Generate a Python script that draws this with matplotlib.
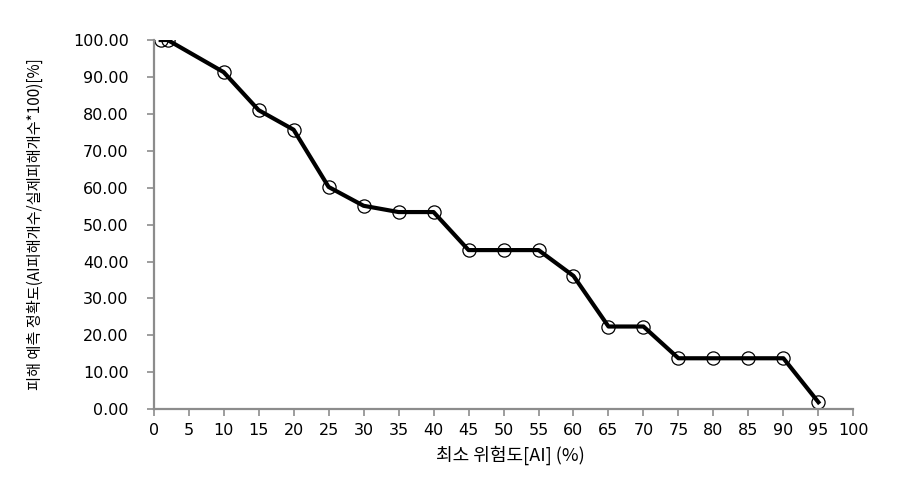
import numpy as np
import matplotlib.pyplot as plt
from matplotlib.ticker import FormatStrFormatter

plt.rcParams['font.family'] = ['Noto Sans CJK KR', 'DejaVu Sans']

# 최소 위험도 (%) and 피해 예측 정확도 (%)
min_risk = [1, 2, 10, 15, 20, 25, 30, 35, 40, 45, 50, 55, 60, 65, 70, 75, 80, 85, 90, 95]
accuracy = [100.0, 100.0, 91.3, 81.0, 75.7, 60.2, 55.1, 53.4, 53.4, 43.1, 43.1, 43.1,
            36.1, 22.4, 22.4, 13.8, 13.8, 13.8, 13.8, 1.9]

fig = plt.figure(figsize=(9.04, 4.82), dpi=100)
ax = fig.add_axes([0.170, 0.151, 0.774, 0.766])

ax.plot(min_risk, accuracy, color='black', linewidth=3,
        marker='o', markersize=9.5, markerfacecolor='none',
        markeredgecolor='black', markeredgewidth=0.9)

ax.set_xlim(0, 100)
ax.set_ylim(0, 100)
ax.set_xticks(np.arange(0, 101, 5))
ax.set_yticks(np.arange(0, 101, 10))
ax.yaxis.set_major_formatter(FormatStrFormatter('%.2f'))

for side in ['top', 'right']:
    ax.spines[side].set_visible(False)
for side in ['left', 'bottom']:
    ax.spines[side].set_color('#8c8c8c')
    ax.spines[side].set_linewidth(1.6)
ax.tick_params(axis='both', direction='out', length=5, width=1.2, color='#8c8c8c')
ax.tick_params(axis='y', pad=13)
ax.tick_params(axis='x', pad=5)
for lbl in ax.get_xticklabels() + ax.get_yticklabels():
    lbl.set_family('DejaVu Sans')
    lbl.set_fontsize(11.5)

ax.set_xlabel('최소 위험도[AI] (%)', fontsize=13)
ax.xaxis.set_label_coords(0.51, -0.098)
ax.set_ylabel('피해 예측 정확도(AI피해개수/실제피해개수*100)[%]', fontsize=11)
ax.yaxis.set_label_coords(-0.157, 0.5)

fig.savefig('out.png', dpi=100)
